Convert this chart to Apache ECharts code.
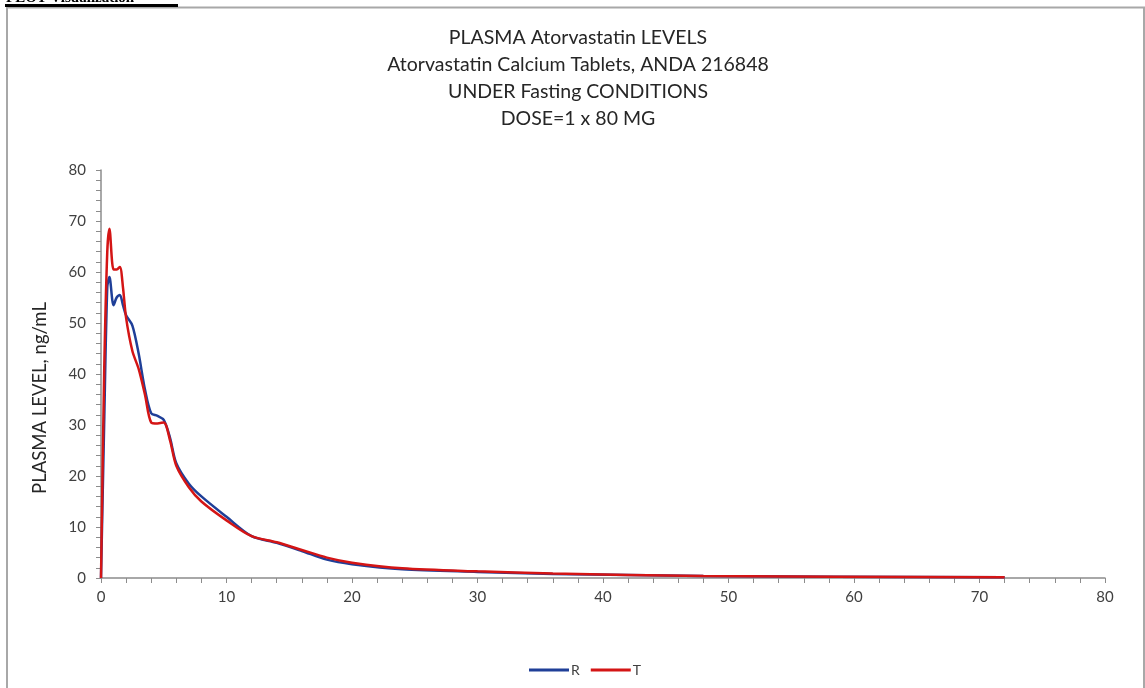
<!DOCTYPE html>
<html>
<head>
<meta charset="utf-8">
<script src="https://cdn.jsdelivr.net/npm/echarts@6/dist/echarts.min.js"></script>
<style>
  html, body { margin: 0; padding: 0; background: #fff; }
  #main { width: 1145px; height: 688px; }
</style>
</head>
<body>
<div id="main"></div>
<script>
// sampling times (h)
var times = [0, 0.25, 0.5, 0.67, 1, 1.25, 1.5, 1.75, 2, 2.5, 3, 3.5, 4, 4.5, 5, 5.5, 6, 7, 8, 10, 12, 14, 16, 18, 20, 24, 30, 36, 48, 72];
// mean plasma levels, ng/mL
var levelR = [0, 30, 57, 59, 53.5, 55, 55.5, 53.5, 51.5, 49.5, 44, 37, 32.3, 31.8, 31, 27.5, 22.5, 18.5, 16, 12, 8.2, 6.9, 5.3, 3.6, 2.7, 1.7, 1.2, 0.8, 0.4, 0.15];
var levelT = [0, 40, 64, 68.5, 60.5, 60.5, 61, 57, 51, 44.5, 41, 36, 30.5, 30.3, 30.5, 27, 22, 17.8, 15, 11.3, 8.2, 7, 5.5, 4, 3, 1.9, 1.3, 0.9, 0.4, 0.15];
var xTicks = [0, 80, 10];
var yTicks = [0, 80, 10];

function pairs(xs, ys) {
	var out = [];
	for (var i = 0; i < xs.length; i++) {
		out.push([xs[i], ys[i]]);
	}
	return out;
}

var chart = echarts.init(document.getElementById('main'));
var axisColor = '#8c8c8c';
var labelStyle = { color: '#404040', fontSize: 15, fontFamily: 'Lato' };

var option = {
	backgroundColor: '#fff',
	animation: false,
	textStyle: { fontFamily: 'Lato' },
	grid: { left: 101, right: 40, top: 170, bottom: 110 },
	legend: {
		left: 524,
		top: 658,
		icon: 'rect',
		itemWidth: 40,
		itemHeight: 3,
		itemGap: 11,
		textStyle: { color: '#404040', fontSize: 14, padding: [0, 0, 0, -3] },
		data: ['R', 'T']
	},
	xAxis: {
		type: 'value',
		min: xTicks[0],
		max: xTicks[1],
		interval: xTicks[2],
		axisLine: { lineStyle: { color: axisColor, width: 1.5 } },
		axisTick: { show: true, length: 5, lineStyle: { color: axisColor } },
		minorTick: { show: true, splitNumber: 5, length: 5, lineStyle: { color: axisColor } },
		splitLine: { show: false },
		axisLabel: Object.assign({ margin: 12 }, labelStyle)
	},
	yAxis: {
		type: 'value',
		min: yTicks[0],
		max: yTicks[1],
		interval: yTicks[2],
		axisLine: { show: true, lineStyle: { color: axisColor, width: 1.5 } },
		axisTick: { show: true, length: 5, lineStyle: { color: axisColor } },
		minorTick: { show: true, splitNumber: 5, length: 5, lineStyle: { color: axisColor } },
		splitLine: { show: false },
		axisLabel: Object.assign({ margin: 15 }, labelStyle)
	},
	series: [
		{
			name: 'R',
			type: 'line',
			smooth: 0.3,
			showSymbol: false,
			color: '#1f3f98',
			lineStyle: { width: 2.5, color: '#1f3f98' },
			data: pairs(times, levelR)
		},
		{
			name: 'T',
			type: 'line',
			smooth: 0.3,
			showSymbol: false,
			color: '#d41515',
			lineStyle: { width: 2.5, color: '#d41515' },
			data: pairs(times, levelT)
		}
	],
	graphic: [
		{
			type: 'rect',
			shape: { x: 7, y: 7.5, width: 1137, height: 700 },
			style: { fill: 'none', stroke: '#a8a8a8', lineWidth: 2 },
			silent: true
		},
		{
			type: 'rect',
			shape: { x: 5, y: 4, width: 173, height: 3 },
			style: { fill: '#000' },
			silent: true
		},
		{
			type: 'text',
			style: {
				x: 6, y: 6, text: 'PLOT Visualization',
				fontSize: 15, fontWeight: 'bold', fontFamily: 'Liberation Serif',
				fill: '#000', textVerticalAlign: 'bottom'
			},
			silent: true
		},
		{
			type: 'text',
			style: {
				x: 578, y: 24,
				text: 'PLASMA Atorvastatin LEVELS\nAtorvastatin Calcium Tablets, ANDA 216848\nUNDER Fasting CONDITIONS\nDOSE=1 x 80 MG',
				fontSize: 19.5, fontFamily: 'Lato', lineHeight: 27,
				fill: '#262626', textAlign: 'center', textVerticalAlign: 'top'
			},
			silent: true
		},
		{
			type: 'text',
			x: 40, y: 398,
			rotation: Math.PI / 2,
			style: {
				x: 0, y: 0,
				text: 'PLASMA LEVEL, ng/mL',
				fontSize: 18.5, fontFamily: 'Lato',
				fill: '#262626', textAlign: 'center', textVerticalAlign: 'middle'
			},
			silent: true
		}
	]
};
chart.setOption(option);
</script>
</body>
</html>
